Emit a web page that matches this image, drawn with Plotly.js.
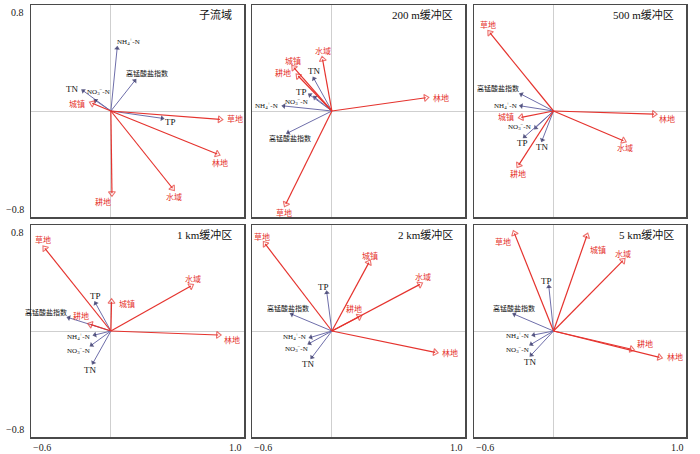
<!DOCTYPE html>
<html><head><meta charset="utf-8">
<script src="https://cdn.plot.ly/plotly-3.0.1.min.js"></script>
<style>html,body{margin:0;padding:0;background:#fff}</style>
</head><body><div id="chart" style="width:700px;height:454px"></div>
<script>
// ---- data ----
const panelTitles = ['子流域', '200 m缓冲区', '500 m缓冲区', '1 km缓冲区', '2 km缓冲区', '5 km缓冲区'];
const envNames = ['TN', 'NO<sub>3</sub><sup>−</sup>-N', 'NH<sub>4</sub><sup>+</sup>-N', 'TP', '高锰酸盐指数'];
const landNames = ['草地', '林地', '水域', '耕地', '城镇'];
const xTickLabels = ['−0.6', '1.0'];
const yTickLabels = ['0.8', '−0.8'];

// env order: TN, NO3-N, NH4-N, TP, CODMn ; land order: 草地, 林地, 水域, 耕地, 城镇
const envX_sub = [-0.208, -0.115, 0.047, 0.385, 0.180];
const envY_sub = [0.153, 0.078, 0.473, -0.055, 0.229];
const landX_sub = [0.819, 0.799, 0.463, 0.008, -0.140];
const landY_sub = [-0.063, -0.325, -0.583, -0.621, 0.058];

const envX_200m = [-0.135, -0.128, -0.361, -0.165, -0.328];
const envY_200m = [0.244, 0.103, 0.038, 0.121, -0.164];
const landX_200m = [-0.346, 0.706, -0.070, -0.253, -0.286];
const landY_200m = [-0.702, 0.100, 0.390, 0.264, 0.327];

const envX_500m = [-0.085, -0.135, -0.243, -0.218, -0.243];
const envY_500m = [-0.219, -0.126, 0.038, -0.194, 0.126];
const landX_500m = [-0.481, 0.759, 0.528, -0.263, -0.243];
const landY_500m = [0.591, -0.023, -0.224, -0.408, -0.048];

const envX_1km = [-0.133, -0.145, -0.120, -0.115, -0.316];
const envY_1km = [-0.239, -0.106, -0.030, 0.209, 0.100];
const landX_1km = [-0.496, 0.806, 0.601, -0.153, 0.005];
const landY_1km = [0.624, -0.030, 0.340, 0.050, 0.221];

const envX_2km = [-0.150, -0.168, -0.158, -0.038, -0.300];
const envY_2km = [-0.199, -0.093, -0.048, 0.289, 0.126];
const landX_2km = [-0.501, 0.776, 0.661, 0.205, 0.278];
const landY_2km = [0.657, -0.161, 0.352, 0.108, 0.516];

const envX_5km = [-0.168, -0.168, -0.150, -0.035, -0.295];
const envY_5km = [-0.181, -0.100, -0.030, 0.334, 0.126];
const landX_5km = [-0.295, 0.800, 0.524, 0.589, 0.251];
const landY_5km = [0.737, -0.199, 0.531, -0.138, 0.717];

// ---- layout / style ----
const panels = [
  {env: [envX_sub, envY_sub], land: [landX_sub, landY_sub]},
  {env: [envX_200m, envY_200m], land: [landX_200m, landY_200m]},
  {env: [envX_500m, envY_500m], land: [landX_500m, landY_500m]},
  {env: [envX_1km, envY_1km], land: [landX_1km, landY_1km]},
  {env: [envX_2km, envY_2km], land: [landX_2km, landY_2km]},
  {env: [envX_5km, envY_5km], land: [landX_5km, landY_5km]}
];
// label placement: [dx px, dy px (up), anchor]
const envPos = [
  [[-3,2,'right'],[3,9,'center'],[-2,7,'left'],[1,-4,'left'],[-11,7,'left']],
  [[0,8,'center'],[-5,-4,'right'],[-4,0,'right'],[-1,3,'right'],[2,-6,'center']],
  [[0,-7,'center'],[-3,1,'right'],[-2,0,'right'],[-2,-6,'center'],[0,6,'right']],
  [[-3,-7,'center'],[0,-5,'right'],[-3,-2,'right'],[0,7,'center'],[0,5,'right']],
  [[-4,-7,'center'],[0,-5,'right'],[-3,1,'right'],[-3,6,'center'],[-4,6,'center']],
  [[-1,-7,'center'],[0,-5,'right'],[-3,-1,'right'],[-2,6,'center'],[0,6,'center']]
];
const envFontSize = [9, 7, 7, 9, 7];
const landPos = [
  [[5,0,'left'],[3,-9,'center'],[1,-9,'center'],[-9,-9,'center'],[-5,-1,'right']],
  [[-2,-9,'center'],[5,0,'left'],[0,8,'center'],[-5,3,'right'],[-1,7,'center']],
  [[-2,8,'center'],[3,-5,'left'],[2,-7,'center'],[-1,-9,'center'],[-5,0,'right']],
  [[-2,8,'center'],[4,-5,'left'],[2,7,'center'],[0,8,'right'],[5,-2,'left']],
  [[-3,7,'center'],[5,-1,'left'],[3,7,'center'],[-5,8,'center'],[1,7,'center']],
  [[-1,-9,'right'],[5,0,'left'],[0,7,'center'],[3,5,'left'],[1,-14,'left']]
];
const W = 700, H = 454;
const xDom = [[31, 244], [252, 465], [474, 686]];
const yDom = [[5, 217], [225, 437]];
const serif = 'Liberation Serif, Noto Sans CJK SC, serif';
const RED = '#e5332e', ENVLINE = '#6e6eaa', ENVHEAD = '#1c1c55';

const traces = [], annotations = [];
const layout = {
  width: W, height: H, margin: {l: 0, r: 0, t: 0, b: 0},
  paper_bgcolor: '#fff', plot_bgcolor: '#fff', showlegend: false,
  annotations: annotations
};

panels.forEach((p, k) => {
  const s = k === 0 ? '' : String(k + 1);
  const row = Math.floor(k / 3), col = k % 3;
  const axBase = {
    showline: true, mirror: true, linecolor: '#4a4a4a', linewidth: 1.5,
    zeroline: true, zerolinecolor: '#cfcfcf', zerolinewidth: 1, showgrid: false,
    ticks: '', showticklabels: false, fixedrange: true
  };
  layout['xaxis' + s] = Object.assign({}, axBase, {
    domain: [xDom[col][0] / W, xDom[col][1] / W], range: [-0.6, 1.0], anchor: 'y' + s});
  layout['yaxis' + s] = Object.assign({}, axBase, {
    domain: [1 - yDom[row][1] / H, 1 - yDom[row][0] / H], range: [-0.8, 0.8], anchor: 'x' + s});
  const xr = 'x' + s, yr = 'y' + s;
  // env arrows
  p.env[0].forEach((vx, i) => {
    const vy = p.env[1][i];
    traces.push({type: 'scatter', mode: 'lines+markers', x: [0, vx], y: [0, vy], xaxis: xr, yaxis: yr,
      line: {color: ENVLINE, width: 1},
      marker: {symbol: 'triangle-up', size: [0, 5], angleref: 'previous', color: ENVHEAD, line: {width: 0}},
      hoverinfo: 'skip', cliponaxis: false});
    const pos = envPos[k][i];
    annotations.push({xref: xr, yref: yr, x: vx, y: vy, text: envNames[i], showarrow: false,
      xshift: pos[0], yshift: pos[1], xanchor: pos[2], yanchor: 'middle',
      font: {family: serif, size: envFontSize[i], color: '#111'}});
  });
  // land-use arrows
  p.land[0].forEach((vx, i) => {
    const vy = p.land[1][i];
    traces.push({type: 'scatter', mode: 'lines+markers', x: [0, vx], y: [0, vy], xaxis: xr, yaxis: yr,
      line: {color: RED, width: 1.2},
      marker: {symbol: 'triangle-up-open', size: [0, 6], angleref: 'previous', color: RED, line: {width: 1.1, color: RED}},
      hoverinfo: 'skip', cliponaxis: false});
    const pos = landPos[k][i];
    annotations.push({xref: xr, yref: yr, x: vx, y: vy, text: landNames[i], showarrow: false,
      xshift: pos[0], yshift: pos[1], xanchor: pos[2], yanchor: 'middle',
      font: {family: serif, size: 8, color: RED}});
  });
  // panel title
  annotations.push({xref: xr + ' domain', yref: yr + ' domain', x: 1, y: 1, xanchor: 'right', yanchor: 'middle',
    xshift: -10, yshift: -10, text: panelTitles[k], showarrow: false,
    font: {family: serif, size: 11, color: '#111'}});
  // tick labels
  if (col === 0) {
    annotations.push({xref: xr + ' domain', yref: yr, x: 0, y: 0.8, xanchor: 'right', yanchor: 'middle',
      xshift: -5, yshift: -8, text: yTickLabels[0], showarrow: false, font: {family: serif, size: 10, color: '#222'}});
    annotations.push({xref: xr + ' domain', yref: yr, x: 0, y: -0.8, xanchor: 'right', yanchor: 'middle',
      xshift: -5, yshift: 8, text: yTickLabels[1], showarrow: false, font: {family: serif, size: 10, color: '#222'}});
  }
  if (row === 1) {
    annotations.push({xref: xr, yref: yr + ' domain', x: -0.6, y: 0, xanchor: 'left', yanchor: 'top',
      yshift: -3, text: xTickLabels[0], showarrow: false, font: {family: serif, size: 10, color: '#222'}});
    annotations.push({xref: xr, yref: yr + ' domain', x: 1.0, y: 0, xanchor: 'right', yanchor: 'top',
      yshift: -3, text: xTickLabels[1], showarrow: false, font: {family: serif, size: 10, color: '#222'}});
  }
});

Plotly.newPlot('chart', traces, layout, {staticPlot: true, displayModeBar: false});
</script></body></html>
